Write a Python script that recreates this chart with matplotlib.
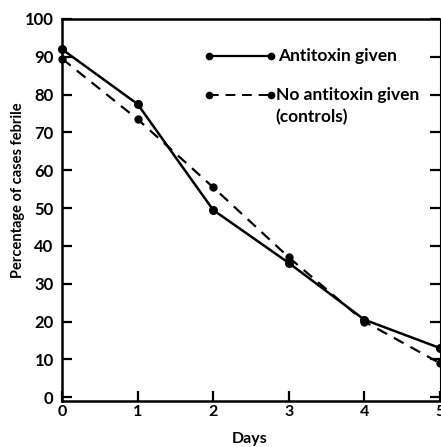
import matplotlib
matplotlib.use("Agg")
import matplotlib.pyplot as plt
from matplotlib.lines import Line2D

days = [0, 1, 2, 3, 4, 5]
antitoxin = [92, 77.5, 49.5, 35.5, 20.5, 13]
controls = [89.5, 73.5, 55.5, 37, 20, 9]
yticks = [0, 10, 20, 30, 40, 50, 60, 70, 80, 90, 100]
xticks = [0, 1, 2, 3, 4, 5]

plt.rcParams['font.family'] = ['Lato', 'DejaVu Sans']
plt.rcParams['font.weight'] = 'bold'

fig = plt.figure(figsize=(4.41, 4.47), dpi=100)
ax = fig.add_axes([0.1406, 0.1029, 0.857, 0.8546])

ax.plot(days, antitoxin, color='black', lw=1.8, marker='o', ms=5.5,
        solid_capstyle='round', clip_on=False, zorder=3)
ax.plot(days, controls, color='black', lw=1.6, ls=(0, (5, 3.5)), marker='o', ms=5,
        clip_on=False, zorder=3)

ax.set_xlim(0, 5)
ax.set_ylim(-1, 100)
ax.set_xticks(xticks)
ax.set_xticklabels([str(x) for x in xticks], fontsize=11.5, fontweight='bold')
ax.set_yticks(yticks)
ax.set_yticklabels([str(y) for y in yticks], fontsize=12, fontweight='bold')
ax.tick_params(axis='both', direction='in', length=7, width=1.6, colors='black')
ax.tick_params(axis='x', pad=3)
ax.tick_params(axis='y', right=True, labelright=False, pad=6)
for s in ax.spines.values():
    s.set_linewidth(1.8)
ax.spines['right'].set_linewidth(0.8)

ax.set_ylabel('Percentage of cases febrile', fontsize=10.5, fontweight='bold')
ax.yaxis.set_label_coords(-0.098, 0.552)
ax.set_xlabel('Days', fontsize=11.5, fontweight='bold')
ax.xaxis.set_label_coords(0.497, -0.08)

# legend drawn manually in axes-fraction coordinates
x0, x1 = 0.389, 0.552
for yy, ls, lw in [(0.902, '-', 1.6), (0.801, (0, (5, 3.5)), 1.4)]:
    ax.add_line(Line2D([x0, x1], [yy, yy], transform=ax.transAxes, color='black',
                       lw=lw, ls=ls))
    ax.add_line(Line2D([x0, x1], [yy, yy], transform=ax.transAxes, color='black',
                       lw=0, marker='o', ms=4.5))
ax.text(0.572, 0.902, 'Antitoxin given', transform=ax.transAxes, fontsize=12.5,
        fontweight='bold', va='center', ha='left')
ax.text(0.565, 0.801, 'No antitoxin given', transform=ax.transAxes, fontsize=12.5,
        fontweight='bold', va='center', ha='left')
ax.text(0.565, 0.742, '(controls)', transform=ax.transAxes, fontsize=12.5,
        fontweight='bold', va='center', ha='left')

fig.savefig('out.png', dpi=100)
